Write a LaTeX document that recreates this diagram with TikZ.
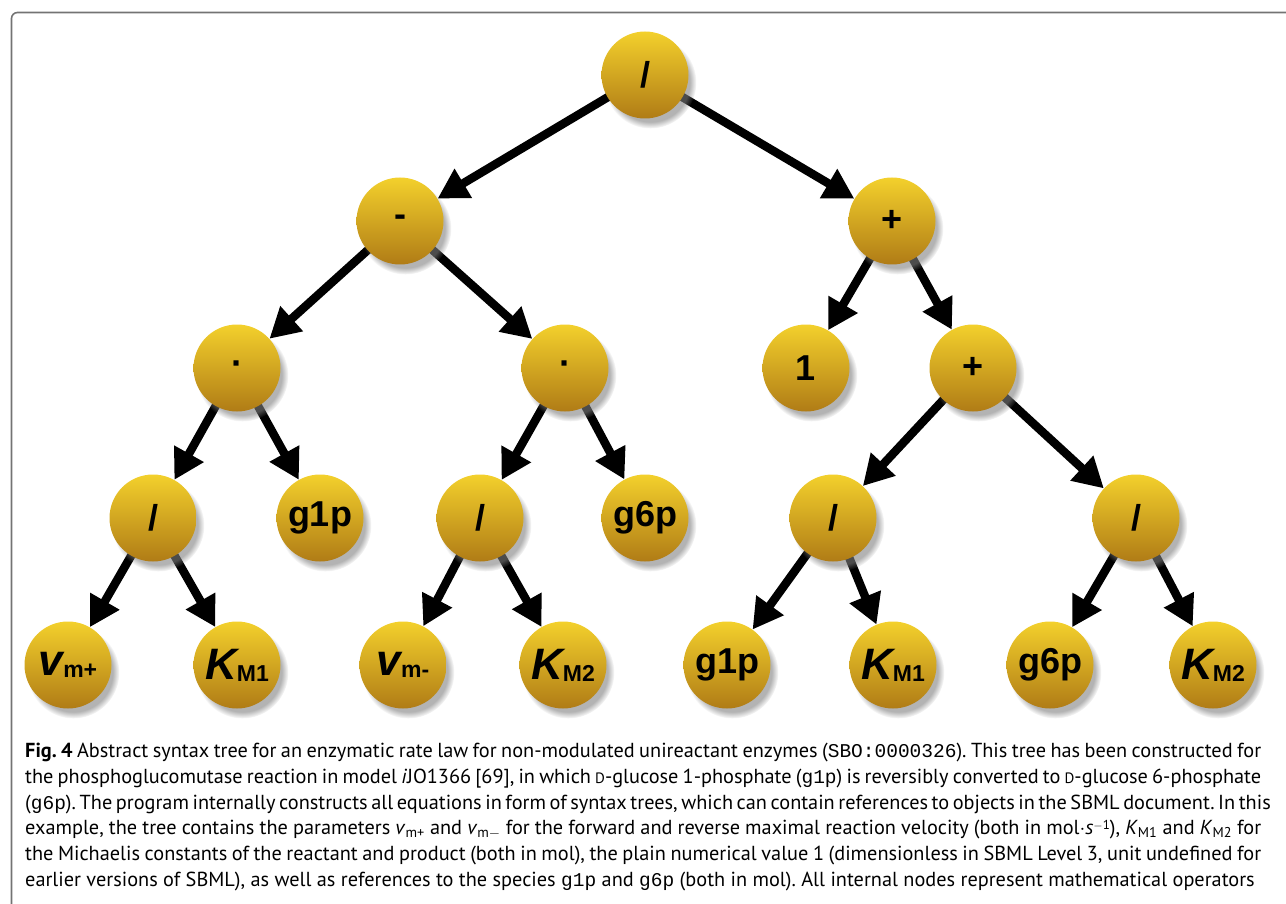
\documentclass[tikz,border=0pt]{standalone}
\usepackage{fontspec}
\setmainfont{PT Sans}
\newfontfamily\lab{Liberation Sans}
\newfontfamily\monof{Liberation Mono}
\usetikzlibrary{shadows,arrows.meta,fadings}
\pgfdeclarelayer{bg}
\pgfsetlayers{bg,main}
\definecolor{goldtop}{RGB}{243,208,44}
\definecolor{goldbot}{RGB}{176,124,22}
\definecolor{framegray}{RGB}{115,115,115}
\newcommand\vlab[1]{{\fontsize{44}{44}\selectfont\itshape v}\raisebox{-2pt}{\fontsize{23}{23}\selectfont #1}}
\newcommand\klab[1]{{\fontsize{44}{44}\selectfont\itshape K}\raisebox{-2pt}{\fontsize{23}{23}\selectfont #1}}
\newcommand\mono[1]{{\monof\fontsize{19.5}{19.5}\selectfont #1}}
\newcommand\smd{{\fontsize{15}{15}\selectfont D}}
\newcommand\ssub[1]{\smash{\textsubscript{#1}}}
\newcommand\ssup[1]{\smash{\raisebox{5pt}{\fontsize{13}{13}\selectfont #1}}}
\tikzset{
 ball/.style={circle, minimum size=87pt, inner sep=0pt, top color=goldtop, bottom color=goldbot,
   circular drop shadow={shadow xshift=5pt, shadow yshift=-7pt, opacity=0.6, shadow scale=1.06},
   font=\lab\bfseries\fontsize{36}{36}\selectfont},
 edge/.style={line width=8.5pt, -{Triangle[length=30pt,width=32pt]}},
 capline/.style={anchor=base west, inner sep=0pt, font=\fontsize{20.3}{20.3}\selectfont\frenchspacing},
}
\begin{document}
\begin{tikzpicture}[x=1pt,y=-1pt]
\useasboundingbox (0,0) rectangle (1286,904);
\clip (0,0) rectangle (1286,904);
\draw[framegray, line width=1.6pt, rounded corners=6pt] (11.5,12.5) rectangle (1320,940);
% level 1
\node[ball] (r) at (645,75) {/};
% level 2
\node[ball] (m) at (400,221) {-};
\node[ball] (p) at (892,221) {+};
% level 3
\node[ball] (d1) at (237,368) {·};
\node[ball] (d2) at (565,368) {·};
\node[ball] (one) at (806,368) {1};
\node[ball] (p2) at (973,368) {+};
% level 4
\node[ball] (q1) at (153,518) {/};
\node[ball] (g1a) at (320,518) {g1p};
\node[ball] (q2) at (480,518) {/};
\node[ball] (g6a) at (645,518) {g6p};
\node[ball] (q3) at (833,518) {/};
\node[ball] (q4) at (1136,518) {/};
% level 5
\node[ball] (v1) at (68,665) {\vlab{m+}};
\node[ball] (k1) at (237,665) {\klab{M1}};
\node[ball] (v2) at (403,665) {\vlab{m-}};
\node[ball] (k2) at (563,665) {\klab{M2}};
\node[ball] (g1b) at (727,665) {g1p};
\node[ball] (k3) at (893,665) {\klab{M1}};
\node[ball] (g6b) at (1050,665) {g6p};
\node[ball] (k4) at (1213,665) {\klab{M2}};
\begin{pgfonlayer}{bg}
\foreach \a/\b in {r/m,r/p,m/d1,m/d2,p/one,p/p2,d1/q1,d1/g1a,d2/q2,d2/g6a,p2/q3,p2/q4,q1/v1,q1/k1,q2/v2,q2/k2,q3/g1b,q3/k3,q4/g6b,q4/k4}
  \draw[edge] (\a.center) -- (\b);
\end{pgfonlayer}
% caption
\node[capline] (c1) at (25,757) {\makebox[1236pt][s]{\textbf{Fig. 4} Abstract syntax tree for an enzymatic rate law for non-modulated unireactant enzymes (\mono{SBO:0000326}). This tree has been constructed for}};
\node[capline] (c2) at (25,783) {\makebox[1236pt][s]{the phosphoglucomutase reaction in model \textit{i}JO1366 [69], in which \smd-glucose 1-phosphate (\mono{g1p}) is reversibly converted to \smd-glucose 6-phosphate}};
\node[capline] (c3) at (25,809) {\makebox[1236pt][s]{(\mono{g6p}). The program internally constructs all equations in form of syntax trees, which can contain references to objects in the SBML document. In this}};
\node[capline] (c4) at (25,834) {\makebox[1236pt][s]{example, the tree contains the parameters \textit{v}\ssub{m+} and \textit{v}\ssub{m$-$} for the forward and reverse maximal reaction velocity (both in mol$\cdot$\textit{s}\ssup{$-$1}), \textit{K}\ssub{M1} and \textit{K}\ssub{M2} for}};
\node[capline] (c5) at (25,860) {\makebox[1236pt][s]{the Michaelis constants of the reactant and product (both in mol), the plain numerical value 1 (dimensionless in SBML Level 3, unit undefined for}};
\node[capline] (c6) at (25,886) {earlier versions of SBML), as well as references to the species \mono{g1p} and \mono{g6p} (both in mol). All internal nodes represent mathematical operators};
\end{tikzpicture}
\end{document}
